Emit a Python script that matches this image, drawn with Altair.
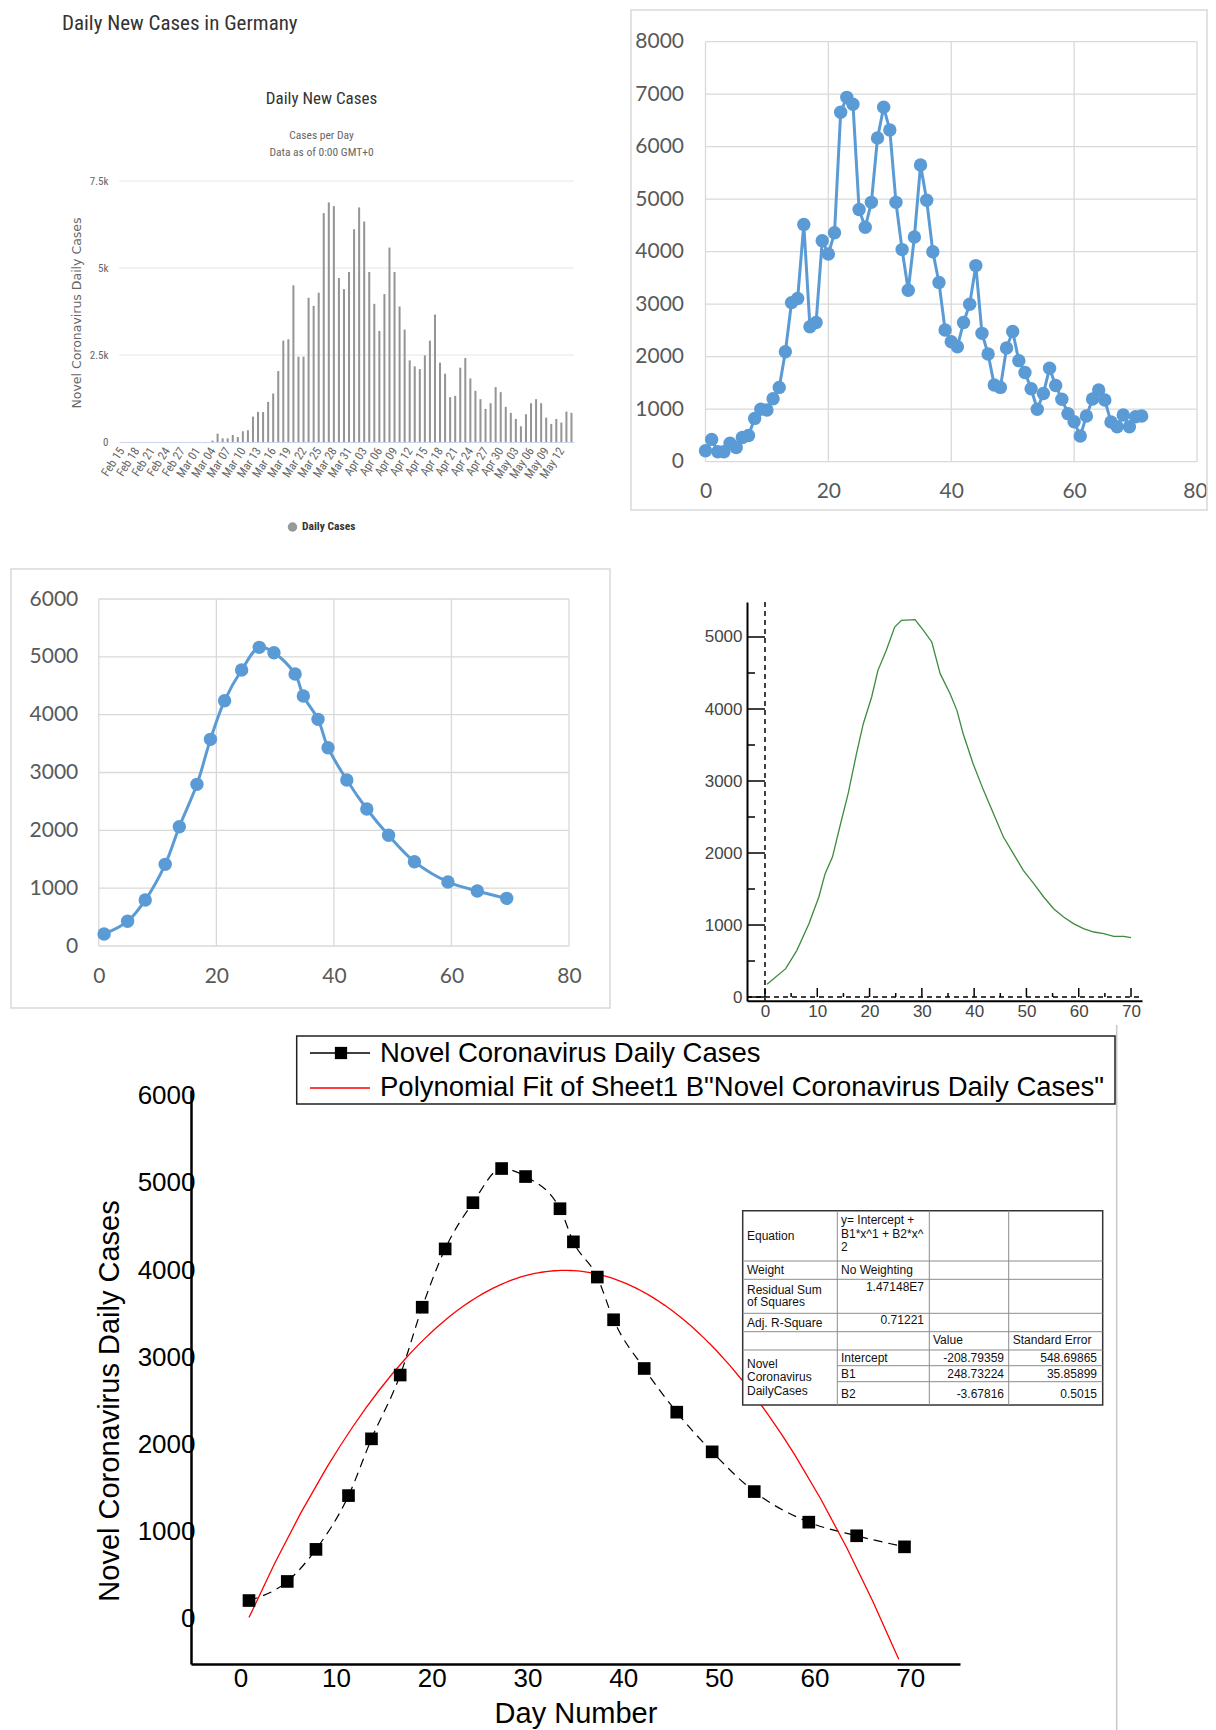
import altair as alt
import pandas as pd

# ---------------- data ----------------
# Panel A: worldometers-style daily bars (Feb 15 .. May 14)
bar_dates = pd.date_range("2020-02-15", periods=90).strftime("%b %d").tolist()
bar_cases = [0, 0, 0, 0, 0, 0, 0, 0, 0, 0, 0, 0, 0, 0, 0, 0, 0, 0,
             40, 240, 106, 106, 202, 144, 308, 337, 731, 865, 865, 1154,
             1394, 2038, 2913, 2952, 4500, 2452, 2452, 4144, 3913, 4288,
             6577, 6885, 6779, 4712, 4394, 4885, 6115, 6740, 6337, 4885,
             3971, 3192, 4250, 5587, 4885, 3894, 3231, 2346, 2173, 2096,
             2490, 2913, 3663, 2279, 1962, 1288, 1327, 2135, 2413, 1827,
             1471, 1231, 952, 1115, 1577, 1433, 1010, 837, 663, 452,
             798, 1115, 1231, 1115, 702, 519, 663, 558, 875, 837]
bar_ticks = [0, 2500, 5000, 7500]

# Panel B: raw daily series by day number
line_days = list(range(72))
line_cases = [210, 425, 190, 190, 350, 270, 460, 500, 825, 1000,
              985, 1200, 1415, 2095, 3030, 3110, 4520, 2570, 2650, 4210,
              3955, 4360, 6655, 6940, 6810, 4805, 4465, 4940, 6165, 6750,
              6320, 4940, 4040, 3265, 4280, 5650, 4980, 4000, 3415, 2510,
              2285, 2190, 2650, 3000, 3735, 2445, 2050, 1460, 1415, 2165,
              2480, 1925, 1700, 1390, 1000, 1300, 1780, 1450, 1190, 915,
              760, 490, 870, 1195, 1365, 1175, 755, 667, 890, 667,
              857, 870]
b_xticks = [0, 20, 40, 60, 80]
b_yticks = [0, 1000, 2000, 3000, 4000, 5000, 6000, 7000, 8000]

# Panel C / E: smoothed series
smooth_days = [0.9, 4.9, 7.9, 11.3, 13.7, 16.7, 19.0, 21.4, 24.3, 27.3, 29.8,
               33.4, 34.8, 37.3, 39.0, 42.2, 45.6, 49.3, 53.7, 59.4, 64.4, 69.4]
smooth_cases = [208, 427, 795, 1412, 2063, 2795, 3573, 4242, 4772, 5164, 5072,
                4703, 4323, 3919, 3429, 2870, 2369, 1914, 1458, 1107, 951, 824]
c_xticks = [0, 20, 40, 60, 80]
c_yticks = [0, 1000, 2000, 3000, 4000, 5000, 6000]

# Panel D: fitted green curve
curve_days = [0.4, 3.96, 6.1, 8.4, 10.3, 11.5, 12.9, 14.3, 15.9, 17.5, 18.8, 20.4,
              21.6, 23.2, 24.8, 26.1, 28.7, 30.3, 31.9, 33.5, 35.4, 36.7, 37.9,
              39.8, 41.8, 43.7, 45.6, 47.5, 49.4, 51.4, 53.3, 55.2, 57.1, 59.0,
              60.9, 62.9, 64.8, 66.7, 68.6, 70.0]
curve_cases = [176, 394, 648, 1019, 1389, 1713, 1944, 2361, 2824, 3380, 3796, 4167,
               4537, 4815, 5139, 5231, 5241, 5093, 4931, 4491, 4213, 3981, 3657,
               3241, 2870, 2546, 2222, 1991, 1759, 1574, 1389, 1227, 1111, 1019,
               949, 903, 880, 843, 843, 824]
d_xticks = [0, 10, 20, 30, 40, 50, 60, 70]
d_xminor = [5, 15, 25, 35, 45, 55, 65]
d_yticks = [0, 1000, 2000, 3000, 4000, 5000]
d_yminor = [500, 1500, 2500, 3500, 4500]

# Panel E: fit table
e_xticks = [0, 10, 20, 30, 40, 50, 60, 70]
e_yticks = [0, 1000, 2000, 3000, 4000, 5000, 6000]
fit_params = ["Intercept", "B1", "B2"]
fit_values = ["-208.79359", "248.73224", "-3.67816"]
fit_errors = ["548.69865", "35.85899", "0.5015"]
fit_rss = "1.47148E7"
fit_r2 = "0.71221"

# ---------------- helpers ----------------
W, H = 1200, 1722


def V(p):
    return p - 8


one = pd.DataFrame({"k": [0]})

NARROW = "Liberation Sans Narrow, Arial Narrow, Roboto Condensed, sans-serif"
LATO = "Lato, Carlito, Open Sans, sans-serif"
ARIAL = "Liberation Sans, Arial, sans-serif"


def frame(x1, y1, x2, y2, stroke, sw, fill_opacity=0.0):
    return alt.Chart(one).mark_rect(fill="white", fillOpacity=fill_opacity,
                                    stroke=stroke, strokeWidth=sw).encode(
        x=alt.value(V(x1)), x2=alt.value(V(x2)), y=alt.value(V(y1)), y2=alt.value(V(y2)))


def label(rows, **style):
    df = pd.DataFrame(rows, columns=["px", "py", "t"])
    df["px"] = df["px"] - 8
    df["py"] = df["py"] - 8
    return alt.Chart(df).mark_text(**style).encode(
        x=alt.X("px:Q", scale=None, axis=None),
        y=alt.Y("py:Q", scale=None, axis=None),
        text="t:N")


def segs(rows, **style):
    df = pd.DataFrame(rows, columns=["x1", "y1", "x2", "y2"]) - 8
    return alt.Chart(df).mark_rule(**style).encode(
        x=alt.X("x1:Q", scale=None, axis=None), x2="x2:Q",
        y=alt.Y("y1:Q", scale=None, axis=None), y2="y2:Q")


def vals(v):
    return pd.DataFrame({"v": v})


def qaxis(orient, offset, values, pad, font, size, color, domain=False, dcolor="black",
          dwidth=1, **extra):
    kw = dict(orient=orient, offset=offset, values=values, labelPadding=pad, format="d",
              labelFont=font, labelFontSize=size, labelColor=color, ticks=False,
              grid=False, title=None, labelFlush=False, domain=domain)
    if domain:
        kw.update(domainColor=dcolor, domainWidth=dwidth)
    kw.update(extra)
    return alt.Axis(**kw)


# ---------------- Panel A ----------------
dfA = pd.DataFrame({"date": bar_dates, "cases": bar_cases})
xA = alt.Scale(domain=bar_dates, range=[V(119), V(574)], paddingInner=0.6, paddingOuter=0.3)
yA = alt.Scale(domain=[0, 7500], range=[V(442), V(181)], nice=False, zero=False)
axAx = alt.Axis(orient="bottom", offset=V(442) - H, values=bar_dates[::3], labelAngle=303,
                labelAlign="right", labelBaseline="middle", labelPadding=6, labelFont=NARROW,
                labelFontSize=12, labelColor="#666666", domainColor="#ccd6eb", domainWidth=1,
                ticks=False, grid=False, title=None, labelOverlap=False)
axAy = alt.Axis(orient="left", offset=-V(119), values=bar_ticks,
                labelExpr="datum.value == 0 ? '0' : format(datum.value / 1000, '.2~f') + 'k'",
                labelPadding=11, labelFont=NARROW, labelFontSize=11, labelColor="#666666",
                domain=False, ticks=False, grid=False, title=None)
gridA = alt.Chart(vals(bar_ticks[1:])).mark_rule(color="#e6e6e6", strokeWidth=1).encode(
    y=alt.Y("v:Q", scale=yA, axis=axAy), x=alt.value(V(119)), x2=alt.value(V(574)))
barsA = alt.Chart(dfA).mark_bar(color="#959595").encode(
    x=alt.X("date:N", scale=xA, sort=None, axis=axAx),
    y=alt.Y("cases:Q", scale=yA, axis=axAy))
panelA = alt.layer(
    gridA, barsA,
    label([(62, 24, "Daily New Cases in Germany")], align="left", baseline="middle",
          font=NARROW, fontSize=21, color="#333333"),
    label([(321.5, 99, "Daily New Cases")], align="center", baseline="middle",
          font=NARROW, fontSize=17, color="#333333"),
    label([(321.5, 136, "Cases per Day"), (321.5, 153, "Data as of 0:00 GMT+0")],
          align="center", baseline="middle", font=NARROW, fontSize=11.5, color="#666666"),
    label([(77, 313, "Novel Coronavirus Daily Cases")], align="center", baseline="middle",
          angle=270, font="DejaVu Sans", fontSize=12.5, color="#666666"),
    alt.Chart(one).mark_circle(size=90, color="#999999", opacity=1).encode(
        x=alt.value(V(292.5)), y=alt.value(V(527))),
    label([(302, 527, "Daily Cases")], align="left", baseline="middle", font=NARROW,
          fontSize=11.5, fontWeight="bold", color="#333333"),
)

# ---------------- Panel B ----------------
dfB = pd.DataFrame({"day": line_days, "cases": line_cases})
xB = alt.Scale(domain=[0, 80], range=[V(705.5), V(1197)], nice=False, zero=False)
yB = alt.Scale(domain=[0, 8000], range=[V(461.7), V(41.7)], nice=False, zero=False)
axBx = qaxis("bottom", V(461.7) - H, b_xticks, 19, LATO, 21, "#595959",
             labelOffset={"condition": {"test": "datum.value == 80", "value": -2}, "value": 0})
axBy = qaxis("left", -V(705.5), b_yticks, 22, LATO, 21, "#595959")
panelB = alt.layer(
    frame(631, 10, 1207, 510, "#d9d9d9", 1.5),
    alt.Chart(vals(b_xticks)).mark_rule(color="#d9d9d9", strokeWidth=1.3).encode(
        x=alt.X("v:Q", scale=xB, axis=axBx), y=alt.value(V(41.7)), y2=alt.value(V(461.7))),
    alt.Chart(vals(b_yticks)).mark_rule(color="#d9d9d9", strokeWidth=1.3).encode(
        y=alt.Y("v:Q", scale=yB, axis=axBy), x=alt.value(V(705.5)), x2=alt.value(V(1197))),
    alt.Chart(dfB).mark_line(color="#5b9bd5", strokeWidth=3).encode(
        x=alt.X("day:Q", scale=xB, axis=axBx), y=alt.Y("cases:Q", scale=yB, axis=axBy)),
    alt.Chart(dfB).mark_circle(size=180, color="#5b9bd5", opacity=1).encode(
        x=alt.X("day:Q", scale=xB, axis=axBx), y=alt.Y("cases:Q", scale=yB, axis=axBy)),
)

# ---------------- Panel C ----------------
dfC = pd.DataFrame({"day": smooth_days, "cases": smooth_cases})
xC = alt.Scale(domain=[0, 80], range=[V(98.8), V(569)], nice=False, zero=False)
yC = alt.Scale(domain=[0, 6000], range=[V(946), V(599)], nice=False, zero=False)
axCx = qaxis("bottom", V(946) - H, c_xticks, 19, LATO, 21, "#595959")
axCy = qaxis("left", -V(98.8), c_yticks, 21, LATO, 21, "#595959")
panelC = alt.layer(
    frame(11, 569, 610, 1008, "#d9d9d9", 1.5),
    alt.Chart(vals(c_xticks)).mark_rule(color="#d9d9d9", strokeWidth=1.3).encode(
        x=alt.X("v:Q", scale=xC, axis=axCx), y=alt.value(V(599)), y2=alt.value(V(946))),
    alt.Chart(vals(c_yticks)).mark_rule(color="#d9d9d9", strokeWidth=1.3).encode(
        y=alt.Y("v:Q", scale=yC, axis=axCy), x=alt.value(V(98.8)), x2=alt.value(V(569))),
    alt.Chart(dfC).mark_line(color="#5b9bd5", strokeWidth=3, interpolate="catmull-rom").encode(
        x=alt.X("day:Q", scale=xC, axis=axCx), y=alt.Y("cases:Q", scale=yC, axis=axCy)),
    alt.Chart(dfC).mark_circle(size=180, color="#5b9bd5", opacity=1).encode(
        x=alt.X("day:Q", scale=xC, axis=axCx), y=alt.Y("cases:Q", scale=yC, axis=axCy)),
)

# ---------------- Panel D ----------------
dfD = pd.DataFrame({"day": curve_days, "cases": curve_cases})
xD = alt.Scale(domain=[-3.44, 72.1], range=[V(747), V(1142)], nice=False, zero=False)
yD = alt.Scale(domain=[-51, 5486], range=[V(1000.7), V(602)], nice=False, zero=False)
axDx = qaxis("bottom", V(1000.7) - H, d_xticks, 3, ARIAL, 17, "#444444", True, "black", 2)
axDy = qaxis("left", -V(747), d_yticks, 5, ARIAL, 17, "#444444", True, "black", 2)
panelD = alt.layer(
    alt.Chart(vals([0])).mark_rule(color="black", strokeWidth=1.5, strokeDash=[5, 4]).encode(
        x=alt.X("v:Q", scale=xD, axis=axDx), y=alt.value(V(602)), y2=alt.value(V(1000.7))),
    alt.Chart(vals([0])).mark_rule(color="black", strokeWidth=1.5, strokeDash=[5, 4]).encode(
        y=alt.Y("v:Q", scale=yD, axis=axDy), x=alt.value(V(747)), x2=alt.value(V(1142))),
    alt.Chart(vals(d_yticks)).mark_rule(color="black", strokeWidth=1.5).encode(
        y=alt.Y("v:Q", scale=yD, axis=axDy), x=alt.value(V(747)), x2=alt.value(V(765))),
    alt.Chart(vals(d_yminor)).mark_rule(color="black", strokeWidth=1.5).encode(
        y=alt.Y("v:Q", scale=yD, axis=axDy), x=alt.value(V(747)), x2=alt.value(V(755))),
    alt.Chart(vals(d_xticks)).mark_rule(color="black", strokeWidth=1.5).encode(
        x=alt.X("v:Q", scale=xD, axis=axDx), y=alt.value(V(988)), y2=alt.value(V(997))),
    alt.Chart(vals(d_xminor)).mark_rule(color="black", strokeWidth=1.5).encode(
        x=alt.X("v:Q", scale=xD, axis=axDx), y=alt.value(V(993)), y2=alt.value(V(997))),
    alt.Chart(dfD).mark_line(color="#3d8b3d", strokeWidth=1.3).encode(
        x=alt.X("day:Q", scale=xD, axis=axDx), y=alt.Y("cases:Q", scale=yD, axis=axDy)),
)

# ---------------- Panel E ----------------
dfE = pd.DataFrame({"day": smooth_days, "cases": smooth_cases})
xE = alt.Scale(domain=[-5.16, 75.2], range=[V(191), V(960)], nice=False, zero=False)
yE = alt.Scale(domain=[-520, 6065], range=[V(1664), V(1090)], nice=False, zero=False)
axEx = qaxis("bottom", V(1664) - H, e_xticks, 1, ARIAL, 26, "black", True, "black", 2.5)
axEy = qaxis("left", -V(191), e_yticks, -4, ARIAL, 26, "black", True, "black", 2.5)

tx_left = [(747, 1236, "Equation"), (841, 1220, "y= Intercept +"),
           (841, 1233.5, "B1*x^1 + B2*x^"), (841, 1247, "2"),
           (747, 1270, "Weight"), (841, 1270, "No Weighting"),
           (747, 1289.5, "Residual Sum"), (747, 1302, "of Squares"),
           (747, 1322.5, "Adj. R-Square"), (933, 1340, "Value"),
           (1012.7, 1340, "Standard Error"), (747, 1363.5, "Novel"),
           (747, 1377.3, "Coronavirus"), (747, 1391, "DailyCases")]
row_y = [1358.3, 1374, 1394]
tx_left += [(841, yy, p) for yy, p in zip(row_y, fit_params)]
tx_right = [(924, 1287, fit_rss), (924, 1319.5, fit_r2)]
tx_right += [(1004, yy, v) for yy, v in zip(row_y, fit_values)]
tx_right += [(1097, yy, e) for yy, e in zip(row_y, fit_errors)]

table_lines = [(742.7, y, 1102.7, y) for y in [1261, 1279.3, 1313.3, 1331.7, 1350]]
table_lines += [(837.3, y, 1102.7, y) for y in [1365.7, 1381.7]]
table_lines += [(x, 1210.7, x, 1405) for x in [837.3, 929.3, 1008.7]]

panelE = alt.layer(
    segs([(1116.7, 1025, 1116.7, 1730)], color="#c8c8c8", strokeWidth=1.5),
    alt.Chart(dfE).mark_line(color="black", strokeWidth=1.2, strokeDash=[9, 6],
                             interpolate="monotone").encode(
        x=alt.X("day:Q", scale=xE, axis=axEx), y=alt.Y("cases:Q", scale=yE, axis=axEy)),
    alt.Chart(dfE).transform_regression("day", "cases", method="poly", order=2,
                                        extent=[0.9, 68.8]).mark_line(
        color="#ff0000", strokeWidth=1.3).encode(
        x=alt.X("day:Q", scale=xE, axis=axEx), y=alt.Y("cases:Q", scale=yE, axis=axEy)),
    alt.Chart(dfE).mark_square(size=160, color="black", opacity=1).encode(
        x=alt.X("day:Q", scale=xE, axis=axEx), y=alt.Y("cases:Q", scale=yE, axis=axEy)),
    # fit table
    frame(742.7, 1210.7, 1102.7, 1405, "#333333", 1.5, fill_opacity=1.0),
    segs(table_lines, color="#8c8c8c", strokeWidth=1),
    label(tx_left, align="left", baseline="middle", font=ARIAL, fontSize=12, color="#111111"),
    label(tx_right, align="right", baseline="middle", font=ARIAL, fontSize=12, color="#111111"),
    # legend
    frame(296.7, 1036, 1115, 1104, "#222222", 1.5),
    segs([(310, 1053, 370, 1053)], color="black", strokeWidth=1.3),
    alt.Chart(one).mark_square(size=150, color="black", opacity=1).encode(
        x=alt.value(V(341)), y=alt.value(V(1053))),
    segs([(310, 1088, 370, 1088)], color="#ff0000", strokeWidth=1.3),
    label([(380, 1054, "Novel Coronavirus Daily Cases"),
           (380, 1088, 'Polynomial Fit of Sheet1 B"Novel Coronavirus Daily Cases"')],
          align="left", baseline="middle", font=ARIAL, fontSize=27.5, color="black"),
    # axis titles
    label([(110, 1401, "Novel Coronavirus Daily Cases")], align="center", baseline="middle",
          angle=270, font=ARIAL, fontSize=29, color="black"),
    label([(576, 1714, "Day Number")], align="center", baseline="middle",
          font=ARIAL, fontSize=29, color="black"),
)

chart = alt.layer(panelA, panelB, panelC, panelD, panelE).resolve_scale(
    x="independent", y="independent"
).properties(
    width=W, height=H, padding=0, autosize=alt.AutoSizeParams(type="none")
).configure_view(stroke=None)

chart.save("out.html", embed_options={"renderer": "svg", "actions": False})
